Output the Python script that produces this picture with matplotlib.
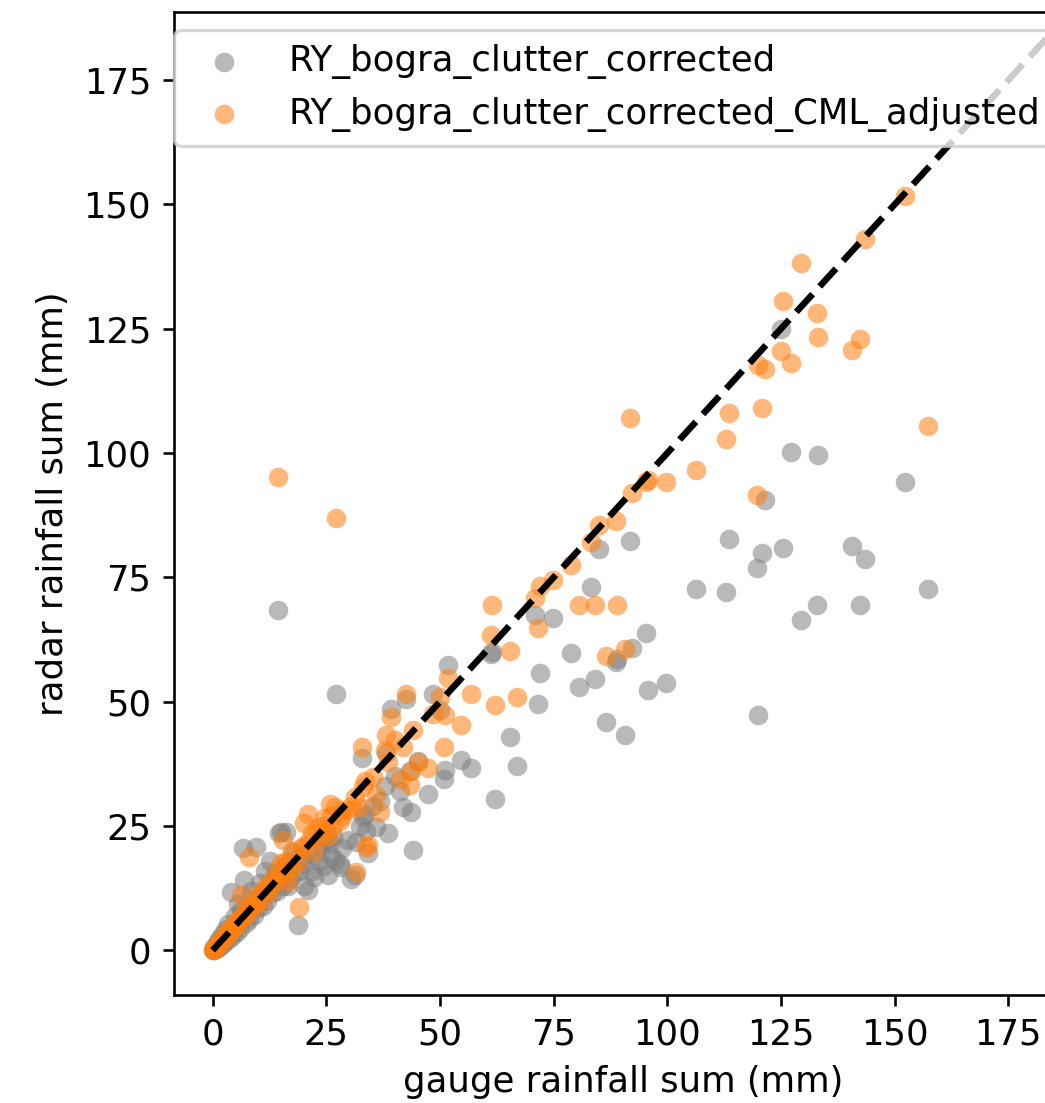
import numpy as np
import matplotlib
matplotlib.use('Agg')
import matplotlib.pyplot as plt

# gauge sum, radar sum (clutter corrected), radar sum (CML adjusted)  [mm]
gauge = [0.0, 0.2, 0.4, 0.6, 0.9, 1.1, 1.4, 1.7, 2.0, 2.3, 2.7, 3.0, 3.4, 3.8,
         4.1, 4.5, 4.9, 5.3, 5.6, 6.0, 6.3, 6.7, 7.0, 7.4, 7.8, 8.1, 8.5, 9.0,
         9.6, 10.0, 10.5, 11.0, 11.5, 12.0, 12.6, 13.1, 13.7, 14.2, 14.4, 14.6,
         15.1, 15.5, 16.0, 16.2, 16.6, 17.0, 17.5, 18.0, 18.8, 19.1, 19.5, 20.0,
         20.2, 21.0, 21.3, 21.8, 22.4, 23.0, 23.5, 24.0, 24.5, 25.0, 25.4, 25.7,
         26.1, 26.5, 26.8, 27.2, 27.9, 28.3, 28.5, 29.8, 30.5, 31.2, 31.6, 32.4,
         32.9, 33.1, 33.5, 33.8, 34.2, 35.3, 36.0, 36.8, 37.9, 38.2, 38.6, 39.3,
         40.1, 41.2, 41.9, 42.5, 43.4, 43.7, 44.1, 45.2, 47.4, 48.5, 50.0, 50.8,
         51.1, 51.8, 54.7, 56.9, 61.3, 61.5, 62.1, 65.4, 67.0, 70.9, 71.6, 72.1,
         74.9, 78.9, 80.5, 83.3, 84.1, 84.9, 86.6, 88.8, 89.0, 90.7, 91.8, 92.3,
         95.2, 95.8, 99.6, 106.4, 113.0, 113.6, 119.8, 120.0, 120.9, 121.5,
         124.9, 125.4, 127.1, 129.3, 132.9, 133.2, 140.6, 142.4, 143.5, 152.3,
         157.4]

radar = [0.0, 0.1, 0.6, 0.2, 1.4, 0.5, 2.2, 0.9, 3.0, 1.2, 4.1, 1.8, 5.2, 2.4,
         11.7, 3.0, 6.8, 3.6, 9.4, 4.5, 8.0, 20.5, 14.1, 5.5, 10.5, 6.2, 12.0, 7.0,
         20.8, 8.5, 13.5, 9.0, 16.0, 10.0, 18.0, 11.5, 15.5, 12.0, 68.4, 23.5,
         23.8, 13.0, 17.0, 23.8, 13.0, 14.5, 20.0, 15.5, 5.0, 16.0, 18.5, 13.0,
         17.5, 12.1, 19.5, 16.0, 14.7, 20.0, 18.0, 21.0, 17.0, 22.0, 15.1, 21.5,
         19.0, 23.0, 18.1, 51.5, 17.4, 16.8, 20.5, 22.1, 14.4, 15.1, 21.8, 25.0,
         38.6, 26.8, 27.5, 24.0, 19.5, 29.0, 24.8, 30.0, 33.0, 39.6, 23.5, 48.6,
         35.0, 32.0, 28.8, 50.6, 36.0, 27.8, 20.1, 38.0, 31.5, 51.6, 48.3, 34.5,
         36.2, 57.3, 38.2, 36.6, 59.5, 60.0, 30.5, 42.8, 37.0, 67.5, 49.6, 55.7,
         66.9, 59.7, 53.0, 73.1, 54.5, 80.6, 45.9, 58.0, 58.5, 43.3, 82.3, 60.7,
         63.8, 52.4, 53.7, 72.6, 72.0, 82.8, 76.8, 47.3, 79.8, 90.5,
         124.9, 80.8, 100.3, 66.4, 69.4, 99.7, 81.3, 69.4, 78.7, 94.1,
         72.6]

radar_adj = [0.0, 0.2, 0.3, 0.7, 0.8, 1.2, 1.3, 1.9, 2.1, 2.6, 2.5, 3.3, 3.1, 4.0,
             4.6, 4.2, 5.3, 5.0, 6.1, 6.3, 11.1, 7.0, 6.6, 8.1, 7.5, 18.8, 8.9, 9.6,
             9.2, 10.7, 11.5, 10.4, 12.3, 13.0, 12.0, 14.2, 13.6, 16.0, 95.1, 15.0,
             17.5, 22.1, 15.5, 18.0, 14.0, 17.8, 16.5, 19.5, 18.0, 8.7, 20.5, 21.0,
             25.5, 27.5, 22.0, 23.5, 20.0, 24.5, 22.5, 25.0, 26.5, 24.0, 23.0, 29.5,
             27.0, 24.8, 28.8, 86.9, 26.0, 28.0, 27.0, 28.2, 29.0, 30.9, 15.8, 28.8,
             40.8, 32.9, 34.0, 20.8, 21.1, 34.9, 31.2, 27.8, 40.2, 43.3, 37.9, 46.9,
             42.3, 34.5, 40.9, 51.6, 33.2, 36.0, 44.3, 37.9, 36.6, 47.6, 51.0, 40.8,
             47.3, 54.7, 45.3, 51.6, 63.4, 69.4, 49.4, 60.2, 51.0, 70.8, 64.9, 73.2,
             74.4, 77.5, 69.4, 82.2, 69.4, 85.5, 59.2, 86.3, 69.4, 60.6, 107.0, 92.0,
             94.2, 94.6, 94.1, 96.6, 102.8, 108.0, 91.5, 117.7, 109.0, 117.0,
             120.5, 130.6, 118.2, 138.3, 128.1, 123.4, 120.8, 122.9, 143.0, 151.7,
             105.4]

TICKS = [0, 25, 50, 75, 100, 125, 150, 175]

plt.rcParams['font.size'] = 10.9

DPI = 235
fig = plt.figure(figsize=(1045 / DPI, 1103 / DPI), dpi=DPI)
# axes runs past the right edge of the picture, as in the reference crop
ax = fig.add_axes([174 / 1045, 108 / 1103, 898 / 1045, 983 / 1103])

ax.scatter(gauge, radar, color='grey', alpha=0.55, linewidths=0,
           label='RY_bogra_clutter_corrected')
ax.scatter(gauge, radar_adj, color='tab:orange', alpha=0.55, linewidths=0,
           label='RY_bogra_clutter_corrected_CML_adjusted')
ax.plot([0, 200], [0, 200], 'k--', lw=2)

ax.set_xlim(-8.5, 189)
ax.set_ylim(-9.0, 188.7)
ax.set_xticks(TICKS)
ax.set_yticks(TICKS)
ax.set_xlabel('gauge rainfall sum (mm)')
ax.set_ylabel('radar rainfall sum (mm)')
ax.legend(loc='upper right')

fig.savefig('out.png', dpi=DPI)
